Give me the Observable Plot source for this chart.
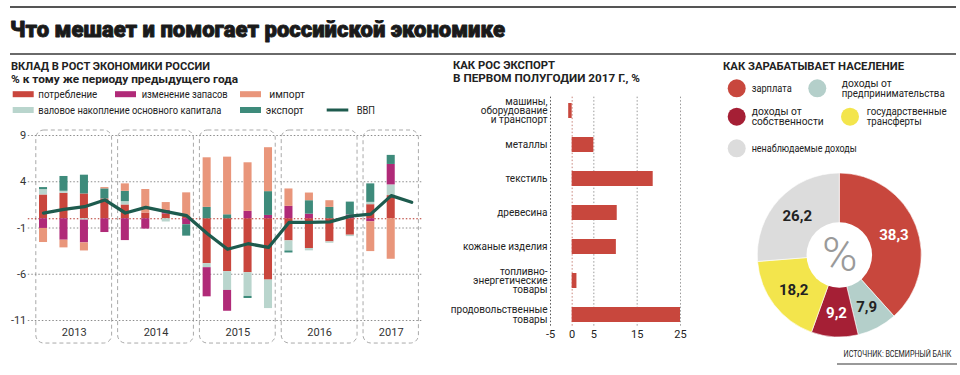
<!DOCTYPE html>
<html>
<head>
<meta charset="utf-8">
<script src="https://cdn.jsdelivr.net/npm/d3@7"></script>
<script src="https://cdn.jsdelivr.net/npm/@observablehq/plot@0.6"></script>
<style>
  html, body { margin: 0; padding: 0; background: #fff; }
  #root { position: relative; width: 960px; height: 375px; overflow: hidden; font-family: Roboto, "Noto Sans", sans-serif; }
  #root > svg, #root > figure { position: absolute; margin: 0; }
  #overlay { left: 0; top: 0; pointer-events: none; }
  #source { position: absolute; right: 9px; top: 349px; font: 8.5px "Liberation Sans Narrow", Roboto, sans-serif; color: #222; white-space: nowrap; line-height: 11px; transform: scaleX(0.84); transform-origin: right center; }
</style>
</head>
<body>
<div id="root"></div>
<script>
// ------------------------- DATA -------------------------
// Panel 1: contributions to GDP growth, % y/y, quarters 2013 Q1 – 2017 Q2 (GDP line up to 2017 Q3)
const years = ["2013", "2014", "2015", "2016", "2017"];
const yearFirstQuarter = [0, 4, 8, 12, 16];
const yearQuarterCount = [4, 4, 4, 4, 3];
const components = ["потребление", "валовое накопление основного капитала", "изменение запасов", "экспорт", "импорт"];
const consumption  = [2.57, 2.75, 2.68, 2.14,  1.49, 0.62, 0.5, 0.25,  -4.86, -5.72, -5.83, -6.63,  -2.39, -3.22, -2.5, -1.78,  1.52, 2.5];
const grossCapital = [0.58, 0.22, -0.15, 0,    0.36, 0, -0.35, 0,      -0.43, -2.03, -2.57, -3.08,  -1.09, -0.25, -0.15, -0.15, 0.25, 1.16];
const inventories  = [-1.05, -2.32, -2.46, -1.49, -2.36, -1.12, 0.4, -0.65, -3.15, -2.25, 0.8, 0.36, 1.34, 0.5, 0, 0.4,      -0.33, 2.21];
const exportsC     = [0.22, 1.6, 2.03, 1.09,   1.12, 0, 0, -1.23,      1.23, 0.43, -0.22, 2.57,     -0.22, 1.45, 1.23, 1.4,     2.0, 0.98];
const importsC     = [-1.52, -0.83, -0.87, 0.14, 0.8, 2.54, 0.85, 2.55, 5.36, 6.23, 5.25, 4.75,     1.88, 0.83, 0.72, 0,        -3.22, -4.38];
const gdpGrowth    = [0.62, 1.01, 1.3, 2.03,   0.62, 1.23, 0.76, 0.33, -1.6, -3.3, -2.7, -3.1,      -0.4, -0.4, -0.33, 0.29,    0.5, 2.5, 1.78];
const yTicks = [9, 4, -1, -6, -11];

// Panel 2: export growth, first half 2017, %
const exportCategories = ["машины,\nоборудование\nи транспорт", "металлы", "текстиль", "древесина", "кожаные изделия", "топливно-\nэнергетические\nтовары", "продовольственные\nтовары"];
const exportGrowth = [-0.8, 5, 18.7, 10.4, 10.2, 1.1, 25];
const exportTicks = [-5, 0, 5, 15, 25];

// Panel 3: income structure, %
const incomeCategories = ["зарплата", "доходы от предпринимательства", "доходы от собственности", "государственные трансферты", "ненаблюдаемые доходы"];
const incomeShares = [38.3, 7.9, 9.2, 18.2, 26.2];

// ------------------------- STYLES -------------------------
const compColors = ["#c9463d", "#b9d5cd", "#b02a78", "#3e8b7b", "#e9967b"];
const gdpColor = "#1e5b4e";
const incomeColors = ["#c8473d", "#b4cfca", "#a51f35", "#f3e54c", "#dcdcdc"];
const incomeLabelColors = ["#fff", "#222", "#fff", "#222", "#222"];
const FONT = "Roboto, 'Noto Sans', sans-serif";

const root = d3.select("#root");

// ------------------------- PANEL 1 -------------------------
const compSeries = [consumption, grossCapital, inventories, exportsC, importsC];
const contribRows = [];
components.forEach((comp, k) => compSeries[k].forEach((value, i) => contribRows.push({i, comp, value})));
const gdpRows = gdpGrowth.map((v, i) => ({i, v}));
const yearRows = years.map((year, k) => ({year, x1: yearFirstQuarter[k], x2: yearFirstQuarter[k] + yearQuarterCount[k]}));

const leftChart = Plot.plot({
  width: 440, height: 235,
  marginTop: 15, marginBottom: 35, marginLeft: 32.8, marginRight: 18.6,
  x: {domain: [0, 19], axis: null},
  y: {domain: [-11, 9], axis: null},
  color: {domain: components, range: compColors},
  style: {background: "transparent", fontFamily: FONT, fontSize: "11px", overflow: "visible"},
  marks: [
    Plot.rect(yearRows, {x1: "x1", x2: "x2", y1: -13.49, y2: 9.54, fill: "none", stroke: "#a9a9a9", strokeWidth: 1, strokeDasharray: "4,3", rx: 8, insetLeft: 3, insetRight: 3}),
    Plot.ruleY(yTicks, {stroke: "#8c8c8c", strokeDasharray: "1.5,2", insetLeft: -5}),
    Plot.ruleY([0], {stroke: "#b5352b", strokeDasharray: "1.5,2", insetLeft: -5}),
    Plot.rect(contribRows, Plot.stackY({x: "i", x1: d => d.i, x2: d => d.i + 1, y: "value", fill: "comp", insetLeft: 6.2, insetRight: 6.2})),
    Plot.line(gdpRows, {x: d => d.i + 0.5, y: "v", stroke: gdpColor, strokeWidth: 3.3, strokeLinejoin: "round"}),
    Plot.text(yTicks, {y: d => d, text: d => String(d), frameAnchor: "left", textAnchor: "end", dx: -7, fill: "#333", fontSize: 11}),
    Plot.text(yearRows, {x: d => (d.x1 + d.x2) / 2, y: -12.26, text: "year", fill: "#333", fontSize: 11})
  ]
});
d3.select(leftChart).style("left", "0px").style("top", "120px");
root.node().appendChild(leftChart);

// ------------------------- PANEL 2 -------------------------
const exportRows = exportCategories.map((c, k) => ({c, v: exportGrowth[k]}));
const exportChart = Plot.plot({
  width: 260, height: 260,
  marginTop: 2.15, marginBottom: 17.75, marginLeft: 110, marginRight: 20,
  x: {domain: [-5, 25], axis: null},
  y: {type: "band", domain: exportCategories, axis: null, paddingInner: 0.56, paddingOuter: 0.28},
  style: {background: "transparent", fontFamily: FONT, fontSize: "10px", overflow: "visible"},
  marks: [
    Plot.ruleX(exportTicks.filter(t => t > 0), {stroke: "#9a9a9a", strokeDasharray: "1.5,2", insetTop: 4.5, insetBottom: 5}),
    Plot.ruleX([exportTicks[0]], {stroke: "#555", strokeDasharray: "1.5,2", insetTop: 4.5, insetBottom: 5}),
    Plot.ruleX([0], {stroke: "#c9857b", strokeDasharray: "1.5,2", insetTop: 4.5, insetBottom: 5}),
    Plot.barX(exportRows, {y: "c", x: "v", fill: "#c8473d"}),
    Plot.text(exportRows, {y: "c", text: "c", frameAnchor: "left", textAnchor: "end", dx: -3, lineHeight: 0.93, fontSize: 10, fill: "#222"}),
    Plot.text(exportTicks, {x: d => d, text: d => String(d), frameAnchor: "bottom", dy: 5, fontSize: 11, fill: "#222"})
  ]
});
d3.select(exportChart).style("left", "440px").style("top", "90px");
root.node().appendChild(exportChart);

// ------------------------- PANEL 3 -------------------------
const pieArcs = d3.pie().sort(null).value(d => d)(incomeShares);
const unitLabelArc = d3.arc().innerRadius(0.707).outerRadius(0.707);
const pieLabelRows = pieArcs.map((a, k) => {
  const [cx, cy] = unitLabelArc.centroid(a);
  return {x: cx, y: -cy, t: incomeShares[k].toFixed(1).replace(".", ","), light: incomeLabelColors[k] === "#fff"};
});
const pieSlices = (index, scales) => {
  const X = scales.x, Y = scales.y;
  const cx = X(0), cy = Y(0), r = X(1) - X(0);
  const arc = d3.arc().innerRadius(0).outerRadius(r);
  const g = d3.create("svg:g").attr("transform", `translate(${cx},${cy})`);
  g.selectAll("path").data(pieArcs).join("path")
    .attr("d", arc).attr("fill", (d, i) => incomeColors[i])
    .attr("stroke", "#fff").attr("stroke-width", 0.6);
  g.append("circle").attr("r", r * 0.4).attr("fill", "#fff");
  return g.node();
};
const pieChart = Plot.plot({
  width: 240, height: 190,
  x: {domain: [-1, 1], range: [37.3, 201.3], axis: null},
  y: {domain: [-1, 1], range: [177, 13], axis: null},
  style: {background: "transparent", fontFamily: FONT, overflow: "visible"},
  marks: [
    pieSlices,
    Plot.text(["%"], {x: 0, y: 0, text: d => d, fontSize: 48, fontWeight: 300, fill: "#9a9a9a"}),
    Plot.text(pieLabelRows, {filter: d => d.light, x: "x", y: "y", text: "t", fill: "#fff", fontSize: 15, fontWeight: 700}),
    Plot.text(pieLabelRows, {filter: d => !d.light, x: "x", y: "y", text: "t", fill: "#222", fontSize: 15, fontWeight: 700})
  ]
});
d3.select(pieChart).style("left", "720px").style("top", "160px");
root.node().appendChild(pieChart);

// ------------------------- OVERLAY: titles, legends, rules -------------------------
const ov = root.append("svg").attr("id", "overlay").attr("width", 960).attr("height", 375).style("font-family", FONT);
function txt(x, y, s, o = {}) {
  const t = ov.append("text").attr("x", x).attr("y", y).text(s)
    .attr("font-size", o.size || 10).attr("font-weight", o.weight || 400)
    .attr("fill", o.fill || "#222").attr("text-anchor", o.anchor || "start");
  if (o.len) t.attr("textLength", o.len).attr("lengthAdjust", "spacingAndGlyphs");
  if (o.dy) t.attr("dy", o.dy);
  if (o.stroke) t.attr("stroke", o.fill || "#222").attr("stroke-width", o.stroke).attr("stroke-linejoin", "round");
  return t;
}
function hline(x1, x2, y, w, c) {
  ov.append("line").attr("x1", x1).attr("x2", x2).attr("y1", y).attr("y2", y).attr("stroke", c).attr("stroke-width", w);
}
hline(10, 956, 7, 2, "#555");
hline(10, 956, 54, 2, "#6a6a6a");
hline(837, 957, 364, 1.5, "#777");

txt(10, 37, "Что мешает и помогает российской экономике", {size: 22, weight: 900, len: 495, fill: "#1a1a1a", stroke: 0.9});

// Panel 1 header + legend
txt(11, 69.5, "ВКЛАД В РОСТ ЭКОНОМИКИ РОССИИ", {size: 11, weight: 700, len: 199});
txt(11, 82.5, "% к тому же периоду предыдущего года", {size: 11, weight: 700, len: 227});
const leg1 = [
  {k: 0, x: 12.7, y: 94.2, tx: 38.3, len: 59},
  {k: 2, x: 115, y: 94.2, tx: 141.7, len: 86},
  {k: 4, x: 240, y: 94.2, tx: 269.3, len: 35.7},
  {k: 1, x: 12.7, y: 110, tx: 38.3, len: 183},
  {k: 3, x: 240, y: 110, tx: 265.7, len: 38}
];
leg1.forEach(d => {
  ov.append("rect").attr("x", d.x).attr("y", d.y - 3).attr("width", 21).attr("height", 6).attr("fill", compColors[d.k]);
  txt(d.tx, d.y, components[d.k], {size: 10, len: d.len, dy: "0.35em"});
});
ov.append("line").attr("x1", 326.7).attr("x2", 348.3).attr("y1", 110).attr("y2", 110).attr("stroke", gdpColor).attr("stroke-width", 3);
txt(356.7, 110, "ВВП", {size: 10, len: 18.3, dy: "0.35em"});

// Panel 2 header
txt(453, 68.5, "КАК РОС ЭКСПОРТ", {size: 10.8, weight: 700, len: 102});
txt(453, 81.5, "В ПЕРВОМ ПОЛУГОДИИ 2017 Г., %", {size: 10.8, weight: 700, len: 187});

// Panel 3 header + legend
txt(723, 70, "КАК ЗАРАБАТЫВАЕТ НАСЕЛЕНИЕ", {size: 11.5, weight: 700, len: 181});
const leg3 = [
  {k: 0, cx: 736.7, cy: 88.3, tx: 751.7, lines: ["зарплата"], lens: [40]},
  {k: 1, cx: 817.3, cy: 88.3, tx: 841.7, lines: ["доходы от", "предпринимательства"], lens: [50, 103]},
  {k: 2, cx: 736.7, cy: 116.7, tx: 751.7, lines: ["доходы от", "собственности"], lens: [50, 72]},
  {k: 3, cx: 850, cy: 116.7, tx: 866.7, lines: ["государственные", "трансферты"], lens: [80, 55]},
  {k: 4, cx: 736.7, cy: 148.3, tx: 751.7, lines: ["ненаблюдаемые доходы"], lens: [105]}
];
leg3.forEach(d => {
  ov.append("circle").attr("cx", d.cx).attr("cy", d.cy).attr("r", 9).attr("fill", incomeColors[d.k]);
  const n = d.lines.length;
  d.lines.forEach((s, j) => txt(d.tx, d.cy + (j - (n - 1) / 2) * 10, s, {size: 10, len: d.lens[j], dy: "0.35em"}));
});

root.append("div").attr("id", "source").text("ИСТОЧНИК: ВСЕМИРНЫЙ БАНК");
</script>
</body>
</html>
